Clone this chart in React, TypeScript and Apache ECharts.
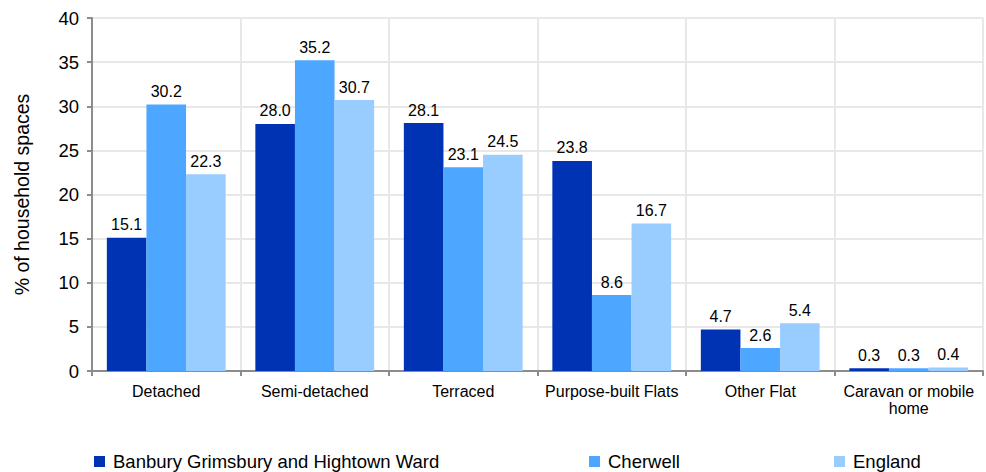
import React, { useEffect, useRef } from "react";
import * as echarts from "echarts";

const categories = [
  "Detached",
  "Semi-detached",
  "Terraced",
  "Purpose-built Flats",
  "Other Flat",
  "Caravan or mobile\nhome",
];
const seriesNames = ["Banbury Grimsbury and Hightown Ward", "Cherwell", "England"];
const wardValues = [15.1, 28.0, 28.1, 23.8, 4.7, 0.3];
const cherwellValues = [30.2, 35.2, 23.1, 8.6, 2.6, 0.3];
const englandValues = [22.3, 30.7, 24.5, 16.7, 5.4, 0.4];
const colors = ["#0033b3", "#4da6ff", "#99ccff"];

export default function App() {
  const ref = useRef<HTMLDivElement>(null);
  useEffect(() => {
    if (!ref.current) return;
    const chart = echarts.init(ref.current, undefined, { renderer: "svg" });
    const font = "'Liberation Sans', Arial, sans-serif";
    const values = [wardValues, cherwellValues, englandValues];
    const legendLefts = [94, 589, 834];
    chart.setOption({
      animation: false,
      textStyle: { fontFamily: font },
      grid: { left: 92, right: 3, top: 18, bottom: 101, containLabel: false },
      legend: seriesNames.map((n, i) => ({
        data: [n],
        left: legendLefts[i],
        top: 452,
        padding: 0,
        icon: "rect",
        itemWidth: 11,
        itemHeight: 11,
        itemGap: 8,
        textStyle: { fontFamily: font, fontSize: 18.5, color: "#000", padding: [0, 0, 0, 3] },
      })),
      xAxis: {
        type: "category",
        data: categories,
        axisLine: { lineStyle: { color: "#8c8c8c", width: 2 } },
        axisTick: { show: true, length: 5, lineStyle: { color: "#8c8c8c", width: 2 } },
        splitLine: { show: true, lineStyle: { color: "#e8e8e8", width: 2 } },
        axisLabel: { fontFamily: font, fontSize: 16, color: "#000", margin: 12, lineHeight: 17, interval: 0 },
      },
      yAxis: {
        type: "value",
        min: 0,
        max: 40,
        interval: 5,
        name: "% of household spaces",
        nameLocation: "middle",
        nameGap: 60,
        nameTextStyle: { fontFamily: font, fontSize: 19.5, color: "#000" },
        axisLine: { show: true, lineStyle: { color: "#8c8c8c", width: 2 } },
        axisTick: { show: true, length: 5, lineStyle: { color: "#8c8c8c", width: 2 } },
        splitLine: { show: true, lineStyle: { color: "#e8e8e8", width: 2 } },
        axisLabel: { fontFamily: font, fontSize: 18.5, color: "#000", margin: 13 },
      },
      series: seriesNames.map((n, i) => ({
        name: n,
        type: "bar",
        data: values[i],
        barGap: "0%",
        barCategoryGap: "20%",
        itemStyle: { color: colors[i] },
        label: {
          show: true,
          position: "top",
          distance: 5,
          formatter: (p: any) => Number(p.value).toFixed(1),
          fontFamily: font,
          fontSize: 16,
          color: "#000",
        },
      })),
    });
    return () => chart.dispose();
  }, []);
  return <div ref={ref} style={{ width: 986, height: 472, position: "absolute", left: 0, top: 0 }} />;
}
